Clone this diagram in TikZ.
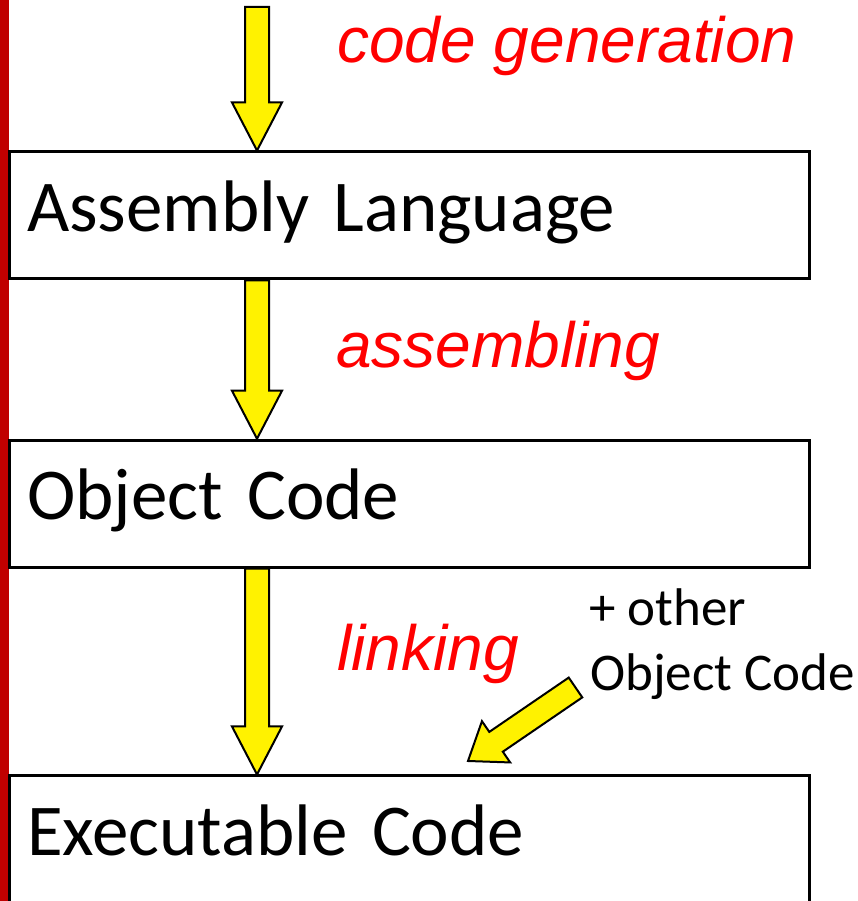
\documentclass[tikz,border=0pt]{standalone}
\usepackage{fontspec}
\setmainfont{Carlito}
\newfontfamily\passfont{Liberation Sans}
\usetikzlibrary{calc}

\definecolor{barred}{HTML}{C00000}
\definecolor{passred}{HTML}{FF0000}

\tikzset{
	stage/.style={draw=black,line width=1.5pt,minimum width=400pt,minimum height=63.5pt,
		inner xsep=9pt,text width=382pt,align=left,text height=26pt,text depth=10pt,
		font=\fontsize{36.5pt}{44pt}\selectfont},
	passlabel/.style={anchor=base west,inner sep=0pt,text=passred,
		font=\passfont\itshape\fontsize{32pt}{38pt}\selectfont},
	extralabel/.style={anchor=base west,inner sep=0pt,font=\fontsize{26.5pt}{33pt}\selectfont},
	fatarrow/.style={fill=yellow,draw=black,line width=1pt,line join=miter},
}

% yellow block arrow from #2 to #3, head length #1
\newcommand{\blockarrow}[3][24pt]{%
	\coordinate (ba-s) at (#2);
	\coordinate (ba-t) at (#3);
	\coordinate (ba-h) at ($(ba-t)!#1!(ba-s)$);
	\draw[fatarrow] ($(ba-s)!6pt!90:(ba-t)$)--($(ba-h)!6pt!-90:(ba-s)$)--($(ba-h)!12.5pt!-90:(ba-s)$)
		--(ba-t)--($(ba-h)!12.5pt!90:(ba-s)$)--($(ba-h)!6pt!90:(ba-s)$)--($(ba-s)!6pt!-90:(ba-t)$)--cycle;
}

\begin{document}
\begin{tikzpicture}[x=0.5pt,y=0.5pt]
	\useasboundingbox (0,0) rectangle (858,901);
	\fill [barred](0,0) rectangle (9,901);
	
	\node (asm) at(409,685.5)[stage]{Assembly Language};
	\node (obj) at(409,397.25)[stage]{Object Code};
	\node (exe) at(409,61.5)[stage]{Executable Code};
	
	\coordinate (feed) at(257,894);
	\blockarrow{feed}{asm.north -| feed}
	\blockarrow{asm.south -| feed}{obj.north -| feed}
	\blockarrow{obj.south -| feed}{exe.north -| feed}
	
	\node (gen) at(337,838)[passlabel]{code generation};
	\node (assem) at(336,533)[passlabel]{assembling};
	\node (link) at(337,230)[passlabel]{linking};
	
	\node (other) at(589,275)[extralabel]{+ other};
	\node (otherobj) at(590,210)[extralabel]{Object Code};
	
	\coordinate (othertail) at(575.5,213.5);
	\coordinate (othertip) at(468,140);
	\blockarrow[17pt]{othertail}{othertip}
	
\end{tikzpicture}
\end{document}
